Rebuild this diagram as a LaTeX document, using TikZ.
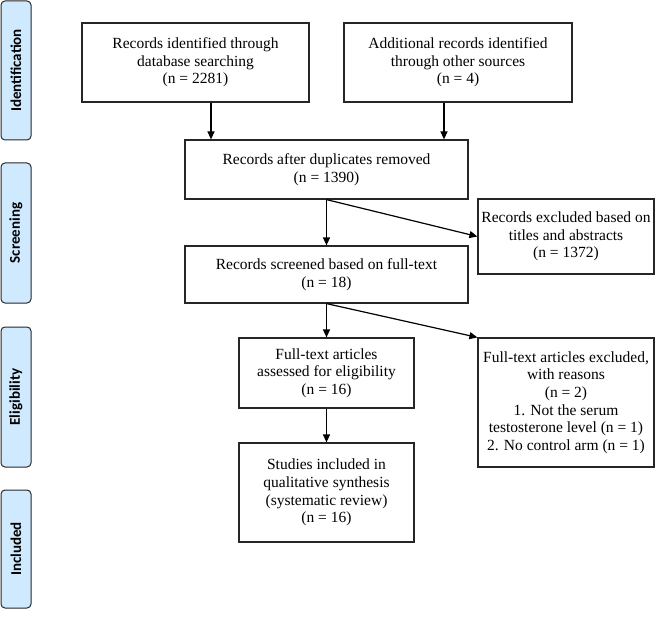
\documentclass[tikz,border=0pt]{standalone}
\usepackage{fontspec}
\setmainfont{Liberation Serif}
\newfontfamily\sidefont{Carlito}
\usetikzlibrary{arrows.meta}
\definecolor{sideblue}{RGB}{207,233,255}
\definecolor{sideedge}{RGB}{40,40,40}
\tikzset{
  box/.style={draw=black!85, line width=1.2pt, align=center, inner sep=2pt,
    font=\fontsize{15.5}{17.6}\selectfont},
  side/.style={draw=sideedge, fill=sideblue, line width=1pt, rounded corners=4pt,
    minimum width=30pt},
  sidetext/.style={rotate=90, font=\sidefont\bfseries\fontsize{15}{17}\selectfont},
  arr/.style={line width=1.2pt, -{Triangle[length=8pt,width=7pt]}}
}
\begin{document}
\begin{tikzpicture}[x=1pt,y=-1pt]
\useasboundingbox (0,0) rectangle (669,631);
% side labels
\node[side, minimum height=139pt] (sid) at (16,70.5) {};
\node[sidetext] (tid) at (sid.center) {Identification};
\node[side, minimum height=140pt] (ssc) at (16,233) {};
\node[sidetext] (tsc) at (ssc.center) {Screening};
\node[side, minimum height=140pt] (sel) at (16,397) {};
\node[sidetext] (tel) at (sel.center) {Eligibility};
\node[side, minimum height=118pt] (sin) at (16,549) {};
\node[sidetext] (tin) at (sin.center) {Included};
% main boxes
\node[box, minimum width=227pt, minimum height=79pt] (b1) at (195.5,62.5)
  {Records identified through\\database searching\\(n = 2281)};
\node[box, minimum width=228pt, minimum height=79pt] (b2) at (458,62.5)
  {Additional records identified\\through other sources\\(n = 4)};
\node[box, minimum width=283pt, minimum height=59pt] (b3) at (326.5,169.5)
  {Records after duplicates removed\\(n = 1390)};
\node[box, minimum width=176pt, minimum height=75pt] (e1) at (566,236.5)
  {Records excluded based on\\titles and abstracts\\(n = 1372)};
\node[box, minimum width=283pt, minimum height=57pt] (b4) at (326.5,274.5)
  {Records screened based on full-text\\(n = 18)};
\node[box, minimum width=175pt, minimum height=70pt] (b5) at (326.5,373)
  {Full-text articles\\assessed for eligibility\\(n = 16)};
\node[box, minimum width=176pt, minimum height=129pt] (e2) at (566,402.5)
  {Full-text articles excluded,\\with reasons\\(n = 2)\\1. Not the serum\\testosterone level (n = 1)\\2. No control arm (n = 1)};
\node[box, minimum width=175pt, minimum height=99pt] (b6) at (326.5,492.5)
  {Studies included in\\qualitative synthesis\\(systematic review)\\(n = 16)};
% arrows
\coordinate (a1) at (211,0);
\coordinate (a2) at (444,0);
\draw[arr] (b1.south -| a1) -- (b3.north -| a1);
\draw[arr] (b2.south -| a2) -- (b3.north -| a2);
\draw[arr] (b3.south) -- (b4.north);
\draw[arr] (b3.south) -- (e1.west);
\draw[arr] (b4.south) -- (b5.north);
\draw[arr] (b4.south) -- (e2.north west);
\draw[arr] (b5.south) -- (b6.north);
\end{tikzpicture}
\end{document}
